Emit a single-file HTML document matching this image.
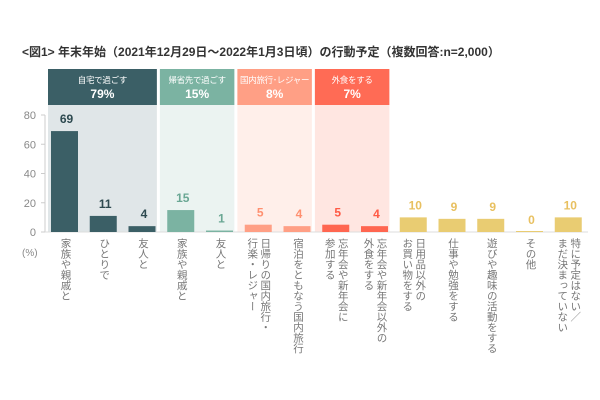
<!DOCTYPE html>
<html><head><meta charset="utf-8">
<style>
body{margin:0;width:600px;height:400px;background:#fff;overflow:hidden;font-family:"Liberation Sans","Noto Sans CJK JP",sans-serif;}
svg{display:block}
.vl{position:absolute;writing-mode:vertical-rl;font-size:10.5px;color:#777;line-height:13px;top:238px;white-space:nowrap;letter-spacing:0}
</style></head><body>
<div style="position:relative;width:600px;height:400px">
<svg id="chart" width="600" height="400"></svg>
<div id="labels"></div>
</div>
<script>
const categories=["家族や親戚と","ひとりで","友人と","家族や親戚と","友人と","日帰りの国内旅行・<br>行楽・レジャー","宿泊をともなう国内旅行","忘年会や新年会に<br>参加する","忘年会や新年会以外の<br>外食をする","日用品以外の<br>お買い物をする","仕事や勉強をする","遊びや趣味の活動をする","その他","特に予定はない／<br>まだ決まっていない"];
const values=[69,11,4,15,1,5,4,5,4,10,9,9,0,10];
const groupOf=[0,0,0,1,1,2,2,3,3,4,4,4,4,4];
const groupNames=["自宅で過ごす","帰省先で過ごす","国内旅行･レジャー","外食をする"];
const groupPct=["79%","15%","8%","7%"];
const yTicks=[0,20,40,60,80];
const barCol=["#3b5f66","#7bb3a2","#ff9f85","#ff6650","#e9cc72"];
const txtCol=["#2e4a50","#6aa794","#ff9070","#ff5a45","#e8c060"];
const headCol=["#3b5f66","#7bb3a2","#ff9f85","#ff6b55"];
const bgCol=["#e0e6e8","#ebf3f1","#ffefea","#ffe6e1"];
const NS="http://www.w3.org/2000/svg",svg=document.getElementById('chart');
const y=v=>232-v*117/80, xc=i=>64.5+38.75*i;
function mk(t,a,p){const e=document.createElementNS(NS,t);for(const k in a)e.setAttribute(k,a[k]);(p||svg).appendChild(e);return e;}
let t=mk('text',{x:22,y:56,'font-size':12,'font-weight':'bold',fill:'#333'});t.textContent="<図1> 年末年始（2021年12月29日～2022年1月3日頃）の行動予定（複数回答:n=2,000）";

for(let g=0;g<4;g++){
 const idx=[];groupOf.forEach((v,i)=>{if(v===g)idx.push(i)});
 const x0=g===0?48:xc(idx[0]-0.5)-3+1.5;
 const x1=xc(idx[idx.length-1]+0.5)-3-1.5;
 let b=mk('rect',{x:x0,y:105,width:x1-x0,height:127,fill:bgCol[g]});
 
 let h=mk('rect',{x:x0,y:69,width:x1-x0,height:36,fill:headCol[g]});
 
 let a=mk('text',{x:(x0+x1)/2,y:83,'text-anchor':'middle','font-size':8.5,'letter-spacing':-0.3,fill:'#fff'});a.textContent=groupNames[g];
 
 let c=mk('text',{x:(x0+x1)/2,y:98,'text-anchor':'middle','font-size':12,'font-weight':'bold',fill:'#fff'});c.textContent=groupPct[g];
 
}
mk('line',{x1:45,y1:115,x2:45,y2:232,stroke:'#ccc'});
mk('line',{x1:45,y1:232,x2:588,y2:232,stroke:'#ddd'});
yTicks.forEach(v=>{mk('line',{x1:41,y1:y(v),x2:45,y2:y(v),stroke:'#ccc'});
 let l=mk('text',{x:36,y:y(v)+4,'text-anchor':'end','font-size':11,fill:'#888'});l.textContent=v;
 });
let pc=mk('text',{x:22,y:256,'font-size':10,fill:'#888'});pc.textContent="(%)";

const lab=document.getElementById('labels');
values.forEach((v,i)=>{
 const g=groupOf[i];
 let r=mk('rect',{x:xc(i)-13.5,y:y(v)-(v===0?1:0),width:27,height:232-y(v)+(v===0?1:0),fill:barCol[g]});
 
 let tv=mk('text',{x:xc(i)+2,y:y(v)-8,'text-anchor':'middle','font-size':12,'font-weight':'bold',fill:txtCol[g]});tv.textContent=v;
 
 const d=document.createElement('div');d.className='vl';d.innerHTML=categories[i];
 const lines=categories[i].split('<br>').length;
 d.style.left=(xc(i)-6-(lines-1)*7)+'px';
 
 
 lab.appendChild(d);
});
</script>
</body></html>
